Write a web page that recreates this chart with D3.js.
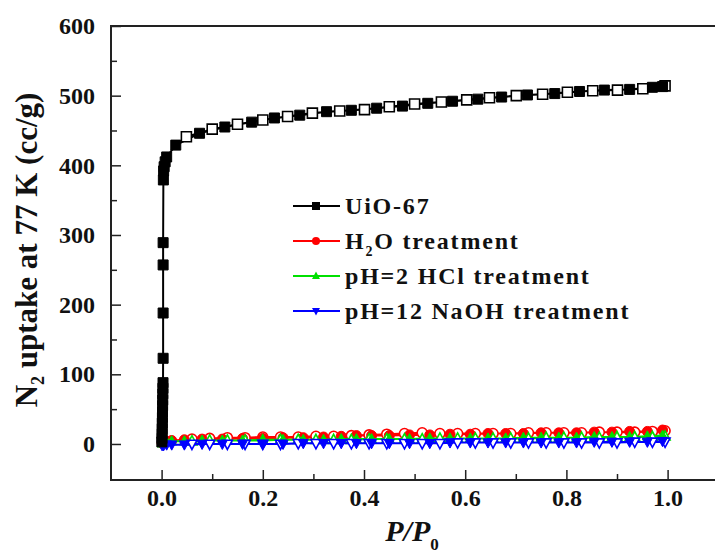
<!DOCTYPE html>
<html>
<head>
<meta charset="utf-8">
<script src="https://cdn.jsdelivr.net/npm/d3@7"></script>
<style>
  html, body { margin: 0; padding: 0; background: #fff; }
  svg { display: block; }
  text { font-family: "Times New Roman", "Liberation Serif", Times, serif; font-weight: bold; fill: #111; }
</style>
</head>
<body>
<svg id="chart" width="715" height="560"></svg>
<script>
// ---- UiO-67 isotherm (P/P0, cc/g) ----
const uioAdsX = [0.0005, 0.0008, 0.001, 0.0012, 0.0014, 0.0016, 0.0018, 0.002, 0.0022, 0.0024, 0.0026, 0.0028,
                 0.003, 0.003, 0.003, 0.003, 0.0035, 0.004, 0.005, 0.007, 0.01, 0.028,
                 0.075, 0.125, 0.178, 0.223, 0.273, 0.326, 0.375, 0.425, 0.476, 0.526,
                 0.575, 0.625, 0.672, 0.723, 0.777, 0.826, 0.875, 0.925, 0.97, 0.99];
const uioAdsY = [3, 8, 15, 22, 30, 38, 46, 55, 63, 72, 80, 88,
                 123, 188, 257, 289, 379, 392, 398, 405, 412, 429,
                 446, 455, 462, 468, 472, 477, 479, 482, 485, 489,
                 492, 495, 498, 501, 503, 506, 508, 509, 512, 513];
const uioDesX = [0.995, 0.951, 0.901, 0.852, 0.802, 0.753, 0.701, 0.648, 0.603, 0.553,
                 0.5, 0.45, 0.401, 0.352, 0.298, 0.249, 0.2, 0.15, 0.1, 0.049];
const uioDesY = [514, 510, 508, 507, 505, 502, 500, 497, 494, 491,
                 488, 484, 480, 478, 475, 470, 465, 459, 452, 441];

// ---- treated samples share the same pressure points ----
const treatAdsX = [0.001, 0.004, 0.01, 0.02, 0.045, 0.08, 0.12, 0.16, 0.2, 0.24, 0.28, 0.32, 0.355, 0.385, 0.415,
                   0.45, 0.49, 0.53, 0.57, 0.61, 0.645, 0.68, 0.715, 0.75, 0.785, 0.82, 0.855, 0.89, 0.925, 0.96, 0.99];
const treatDesX = [0.995, 0.97, 0.935, 0.9, 0.865, 0.83, 0.795, 0.76, 0.725, 0.69, 0.655, 0.62, 0.585, 0.55,
                   0.515, 0.48, 0.445, 0.41, 0.375, 0.34, 0.305, 0.27, 0.235, 0.2, 0.165, 0.13, 0.095, 0.06];

const h2oAdsY = [1, 3, 4, 5, 6, 7, 7, 8, 8, 9, 9, 10, 11, 12, 12, 12, 13, 13, 14, 14, 15, 15, 15, 16, 16, 16, 17, 17, 18, 18, 20];
const h2oDesY = [19, 18, 17, 17, 17, 16, 16, 16, 16, 15, 15, 15, 15, 15, 16, 15, 14, 13, 12, 11, 11, 10, 10, 10, 9, 9, 8, 7];
const hclAdsY = [1, 2, 3, 4, 4, 5, 5, 5, 6, 6, 6, 6, 7, 7, 7, 7, 7, 8, 8, 8, 8, 8, 9, 9, 9, 9, 10, 10, 10, 11, 12];
const hclDesY = [11, 10, 10, 10, 9, 9, 9, 9, 8, 8, 8, 8, 8, 8, 7, 7, 7, 7, 6, 6, 6, 6, 6, 5, 5, 5, 5, 4];
const naohAdsY = [-2, -2, -1, -1, -1, 0, 0, 0, 0, 0, 1, 1, 1, 1, 1, 1, 1, 1, 2, 2, 2, 2, 2, 2, 2, 2, 3, 3, 3, 3, 4];
const naohDesY = [3, 3, 3, 2, 2, 2, 2, 2, 2, 2, 2, 2, 2, 1, 1, 1, 1, 1, 1, 1, 1, 1, 0, 0, 0, 0, 0, 0];

const seriesNames = ["UiO-67", "H2O treatment", "pH=2 HCl treatment", "pH=12 NaOH treatment"];
const seriesColors = ["#000000", "#ff0000", "#00e000", "#0000ff"];
const seriesShapes = ["square", "circle", "triangle", "triangleDown"];

const xTicks = [0, 0.2, 0.4, 0.6, 0.8, 1.0];
const xMinor = [0.1, 0.3, 0.5, 0.7, 0.9];
const yTicks = [0, 100, 200, 300, 400, 500, 600];
const yMinor = [50, 150, 250, 350, 450, 550];

// ---- layout ----
const FONT = "'Times New Roman', 'Liberation Serif', Times, serif";
const svg = d3.select("#chart");
const plotLeft = 111, plotTop = 26, plotBottom = 480;
const x = d3.scaleLinear().domain([-0.1, 1.1]).range([plotLeft, plotLeft + 607.2]);
const y = d3.scaleLinear().domain([-50, 600]).range([478.8, plotTop]);

const plotRight = x(1.1);

svg.append("defs").append("clipPath").attr("id", "plotClip")
  .append("rect").attr("x", plotLeft).attr("y", plotTop).attr("width", plotRight - plotLeft).attr("height", plotBottom - plotTop);

// frame
svg.append("rect").attr("x", plotLeft).attr("y", plotTop).attr("width", plotRight - plotLeft).attr("height", plotBottom - plotTop)
  .attr("fill", "none").attr("stroke", "#222").attr("stroke-width", 2);

function styleLabels(sel) {
  sel.attr("font-size", 24).attr("fill", "#111").attr("font-family", FONT).attr("font-weight", "bold");
}

// axes with inward ticks
const xAxis = svg.append("g").attr("transform", `translate(0,${plotBottom})`)
  .call(d3.axisBottom(x).tickValues(xTicks).tickSize(-10).tickFormat(d3.format(".1f")).tickPadding(9));
xAxis.select(".domain").remove();
xAxis.selectAll("line").attr("stroke", "#222").attr("stroke-width", 1.5);
styleLabels(xAxis.selectAll("text"));
const xMin = svg.append("g").attr("transform", `translate(0,${plotBottom})`)
  .call(d3.axisBottom(x).tickValues(xMinor).tickSize(-6).tickFormat(""));
xMin.select(".domain").remove();
xMin.selectAll("line").attr("stroke", "#222").attr("stroke-width", 1.5);

const yAxis = svg.append("g").attr("transform", `translate(${plotLeft},0)`)
  .call(d3.axisLeft(y).tickValues(yTicks).tickSize(-10).tickPadding(16));
yAxis.select(".domain").remove();
yAxis.selectAll("line").attr("stroke", "#222").attr("stroke-width", 1.5);
styleLabels(yAxis.selectAll("text"));
const yMin = svg.append("g").attr("transform", `translate(${plotLeft},0)`)
  .call(d3.axisLeft(y).tickValues(yMinor).tickSize(-6).tickFormat(""));
yMin.select(".domain").remove();
yMin.selectAll("line").attr("stroke", "#222").attr("stroke-width", 1.5);

// axis titles
const yTitle = svg.append("text")
  .attr("transform", "translate(37,250) rotate(-90)")
  .attr("text-anchor", "middle").attr("font-size", 31).attr("font-family", FONT);
yTitle.append("tspan").text("N");
yTitle.append("tspan").attr("font-size", 18).attr("dy", 7).text("2");
yTitle.append("tspan").attr("dy", -7).text(" uptake at 77 K (cc/g)");

const xTitle = svg.append("text").attr("x", 412).attr("y", 541)
  .attr("text-anchor", "middle").attr("font-size", 30).attr("font-family", FONT);
xTitle.append("tspan").attr("font-style", "italic").text("P/P");
xTitle.append("tspan").attr("font-size", 17).attr("dy", 9).text("0");

// ---- marker shapes ----
function shapePath(shape, size) {
  const s = size / 2;
  if (shape === "square") return `M${-s},${-s}H${s}V${s}H${-s}Z`;
  if (shape === "circle") return d3.symbol(d3.symbolCircle, Math.PI * s * s)();
  if (shape === "triangle") return `M0,${-s * 1.1}L${s},${s * 0.75}L${-s},${s * 0.75}Z`;
  return `M0,${s * 1.1}L${s},${-s * 0.75}L${-s},${-s * 0.75}Z`;
}

const plot = svg.append("g").attr("clip-path", "url(#plotClip)");
const line = d3.line().x(d => x(d[0])).y(d => y(d[1]));

function drawSeries(i, adsX, adsY, desX, desY, size) {
  const color = seriesColors[i], shape = seriesShapes[i];
  const ads = adsX.map((v, k) => [v, adsY[k]]);
  const des = desX.map((v, k) => [v, desY[k]]);
  const g = plot.append("g");
  g.append("path").datum(ads.concat(des)).attr("d", line)
    .attr("fill", "none").attr("stroke", color).attr("stroke-width", 2);
  g.selectAll(".des").data(des).join("path").attr("class", "des")
    .attr("transform", d => `translate(${x(d[0])},${y(d[1])})`)
    .attr("d", shapePath(shape, size)).attr("fill", "#fff").attr("stroke", color).attr("stroke-width", 1.6);
  g.selectAll(".ads").data(ads).join("path").attr("class", "ads")
    .attr("transform", d => `translate(${x(d[0])},${y(d[1])})`)
    .attr("d", shapePath(shape, size)).attr("fill", color).attr("stroke", color).attr("stroke-width", 1);
}

drawSeries(1, treatAdsX, h2oAdsY, treatDesX, h2oDesY, 10);
drawSeries(2, treatAdsX, hclAdsY, treatDesX, hclDesY, 10);
drawSeries(3, treatAdsX, naohAdsY, treatDesX, naohDesY, 10);
drawSeries(0, uioAdsX, uioAdsY, uioDesX, uioDesY, 10);

// ---- legend ----
const legendRows = [206, 241, 276, 311];
const legend = svg.append("g");
seriesNames.forEach((name, i) => {
  const ly = legendRows[i];
  legend.append("line").attr("x1", 293).attr("x2", 340).attr("y1", ly).attr("y2", ly)
    .attr("stroke", seriesColors[i]).attr("stroke-width", 2);
  legend.append("path").attr("transform", `translate(316,${ly})`)
    .attr("d", shapePath(seriesShapes[i], 8)).attr("fill", seriesColors[i]);
  const t = legend.append("text").attr("x", 345).attr("y", ly + 8)
    .attr("font-size", 24).attr("letter-spacing", 1.8).attr("font-family", FONT);
  if (name === "H2O treatment") {
    t.append("tspan").text("H");
    t.append("tspan").attr("font-size", 14).attr("dy", 7).text("2");
    t.append("tspan").attr("dy", -7).text("O treatment");
  } else {
    t.text(name);
  }
});
</script>
</body>
</html>
